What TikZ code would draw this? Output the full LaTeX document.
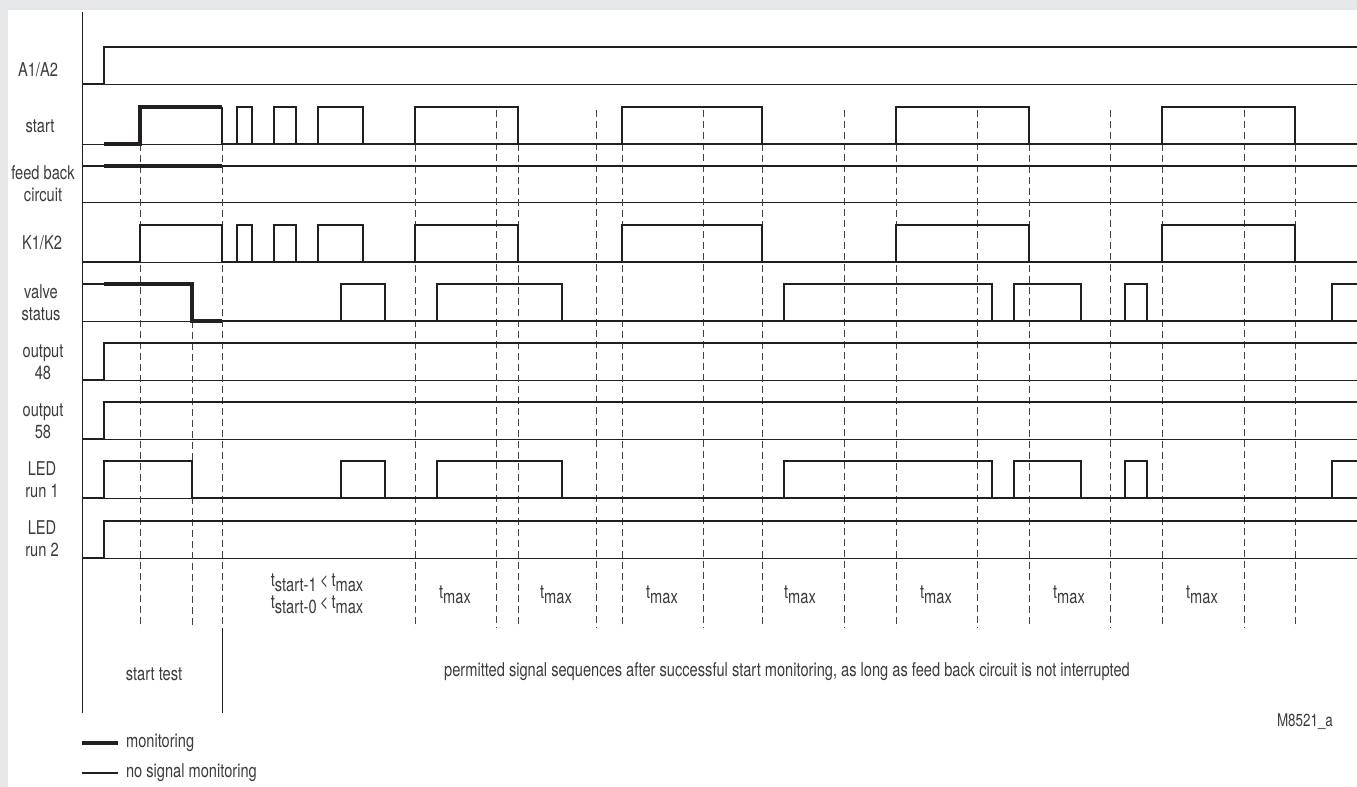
\documentclass[tikz,border=0pt]{standalone}
\usepackage{fontspec}
\setmainfont{TeX Gyre Heros}[FakeStretch=0.77]
\definecolor{bggray}{HTML}{E6E7E8}
\definecolor{inkdark}{HTML}{231F20}
\definecolor{txtgray}{HTML}{3C3C3C}
\newcommand{\tsub}[1]{t\raisebox{-0.5ex}{#1}}
\tikzset{gridln/.style={inkdark,line width=0.5pt},
  sig/.style={inkdark,line width=1pt},
  mon/.style={inkdark,line width=2pt},
  guide/.style={inkdark!85,line width=0.5pt,dash pattern=on 3.5pt off 2pt},
  lbl/.style={txtgray,align=center,font=\fontsize{9.5}{11}\selectfont}}

\begin{document}
\begin{tikzpicture}[x=0.5pt,y=-0.5pt]
  \useasboundingbox (0,0) rectangle (1357,787);
  \fill[bggray] (0,0) rectangle (1357,787);
  \fill[white] (8,10) rectangle (1357,787);
  \foreach \yb in {84,144,202,262,321,380,439,498,558} \draw[gridln] (82,\yb)--(1357,\yb);
  \foreach \x in {140,222,415,518,622,762,896,1029,1162,1295} \draw[guide] (\x,144)--(\x,628);
  \foreach \x in {496,596,703,844,977,1110,1244} \draw[guide] (\x,110)--(\x,628);
  \draw[guide] (192,321)--(192,628);
  \draw[gridln] (82,12)--(82,713);
  \draw[gridln] (222,628)--(222,713);
  \foreach \yb in {84,380,439,558} \draw[sig] (82,\yb)--(104,\yb)--(104,{\yb-37})--(1357,{\yb-37});
  \draw[mon] (104,144)--(140,144)--(140,107)--(222,107);
  \draw[sig] (222,107)--(222,144)--(1357,144);
  \draw[sig] (82,262)--(140,262)--(140,225)--(222,225)--(222,262)--(1357,262);
  \foreach \a/\b in {237/252,274/296,318/363,415/518,622/762,896/1029,1162/1295} {
    \draw[sig] (\a,144)--(\a,107)--(\b,107)--(\b,144);
    \draw[sig] (\a,262)--(\a,225)--(\b,225)--(\b,262);}
  \draw[sig] (82,166)--(1357,166);
  \draw[mon] (104,166)--(222,166);
  \draw[sig] (82,284)--(104,284);
  \draw[mon] (104,284)--(192,284)--(192,321)--(222,321);
  \draw[sig] (222,321)--(1357,321);
  \draw[sig] (82,498)--(104,498)--(104,461)--(192,461)--(192,498)--(1357,498);
  \foreach \yb in {321,498} \foreach \a/\b in {341/385,437/562,784/992,1014/1081,1125/1147,1332/1370}
    \draw[sig] (\a,\yb)--(\a,{\yb-37})--(\b,{\yb-37})--(\b,\yb);
  \node[lbl] (lA) at (38,70) {A1/A2};
  \node[lbl] (lstart) at (40,126) {start};
  \node[lbl] (lfb) at (43,184) {feed back\\circuit};
  \node[lbl] (lK) at (42,243) {K1/K2};
  \node[lbl] (lvalve) at (41,303) {valve\\status};
  \node[lbl] (lout48) at (43,362) {output\\48};
  \node[lbl] (lout58) at (43,421) {output\\58};
  \node[lbl] (lled1) at (42,480) {LED\\run 1};
  \node[lbl] (lled2) at (42,539) {LED\\run 2};
  \node[lbl] (tstart) at (317,594) {\tsub{start-1}\,<\,\tsub{max}\\\tsub{start-0}\,<\,\tsub{max}};
  \foreach \x [count=\i] in {455,556,662,800,936,1069,1202} \node[lbl] (tmax\i) at (\x,595) {\tsub{max}};
  \node[lbl] (ltest) at (154,674) {start test};
  \node[lbl] (lperm) at (787,672) {permitted signal sequences after successful start monitoring, as long as feed back circuit is not interrupted};
  \node[lbl,font=\fontsize{8.7}{10}\selectfont] (lcode) at (1305,722) {M8521\_a};
  \draw[mon] (82,743)--(118,743);
  \node[lbl,anchor=west] (lmon) at (119,743) {monitoring};
  \draw[sig] (82,773)--(118,773);
  \node[lbl,anchor=west] (lnosig) at (119,773) {no signal monitoring};
\end{tikzpicture}
\end{document}
